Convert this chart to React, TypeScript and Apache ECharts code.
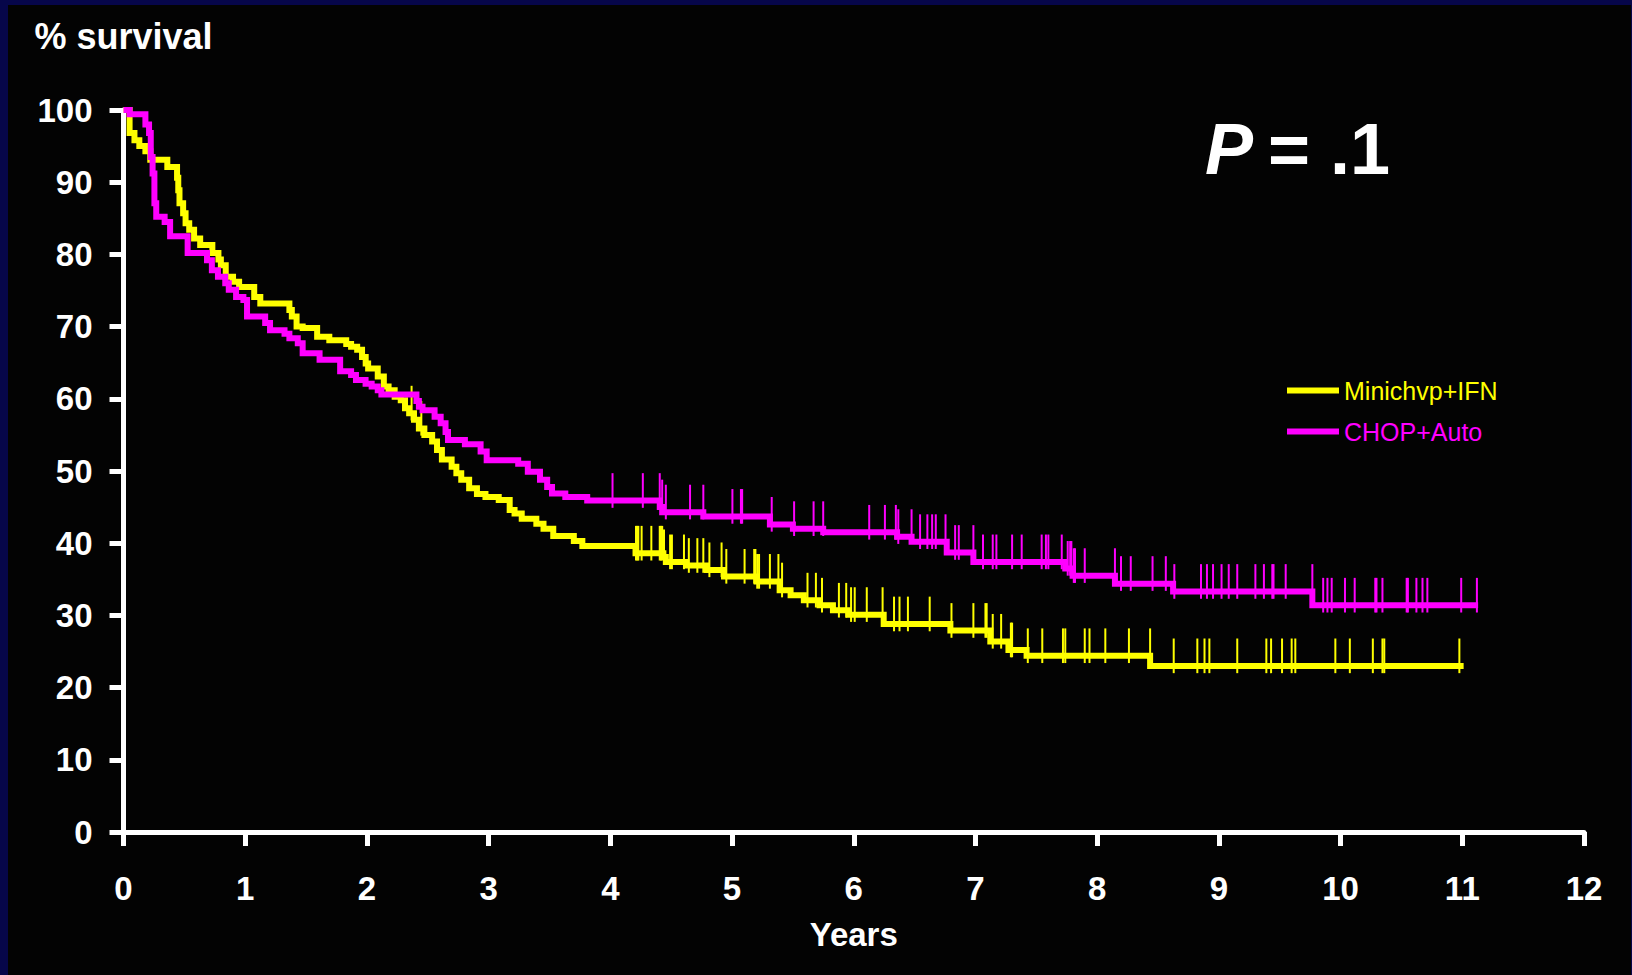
import React, { useEffect, useRef } from "react";
import * as echarts from "echarts";

const FONT = '"Liberation Sans", Arial, Helvetica, sans-serif';

const xTicks = [0, 12, 1];
const yTicks = [0, 100, 10];

const seriesNames = ["Minichvp+IFN", "CHOP+Auto"];
const seriesColors = ["#ffff00", "#ff00ff"];

// Kaplan–Meier step curves: survival value holds from time[i] until time[i+1]
const yellowTimes = [0, 0.05, 0.09, 0.13, 0.18, 0.22, 0.36, 0.44, 0.45, 0.46, 0.49, 0.51, 0.54, 0.58, 0.63, 0.73, 0.78, 0.8, 0.84, 0.9, 0.95, 1.074, 1.124, 1.363, 1.383, 1.422, 1.472, 1.591, 1.691, 1.83, 1.87, 1.92, 1.96, 1.99, 2.01, 2.089, 2.139, 2.178, 2.228, 2.278, 2.313, 2.347, 2.387, 2.427, 2.472, 2.536, 2.576, 2.616, 2.696, 2.735, 2.775, 2.84, 2.904, 2.974, 3.083, 3.173, 3.213, 3.272, 3.392, 3.451, 3.531, 3.7, 3.77, 4.207, 4.436, 4.456, 4.625, 4.794, 4.934, 5.202, 5.391, 5.481, 5.59, 5.719, 5.829, 5.958, 6.246, 6.794, 7.122, 7.271, 7.42, 8.435, 11.011];
const yellowSurv = [100, 96.8, 95.8, 95.0, 94.3, 93.1, 92.1, 90.6, 88.9, 87.1, 85.7, 84.3, 83.4, 82.2, 81.3, 80.2, 79.3, 78.5, 76.9, 76.2, 75.5, 74.1, 73.2, 72.3, 71.4, 70.0, 69.8, 68.6, 68.1, 67.6, 67.2, 66.8, 65.8, 64.9, 64.2, 63.1, 61.7, 61.2, 60.3, 59.8, 58.7, 58.0, 57.1, 55.9, 55.0, 54.1, 52.9, 51.6, 50.6, 49.7, 48.8, 47.6, 46.8, 46.4, 46.0, 44.6, 44.1, 43.4, 42.7, 42.0, 41.0, 40.3, 39.6, 38.6, 38.1, 37.4, 36.9, 36.3, 35.4, 34.7, 33.5, 32.8, 32.1, 31.4, 30.7, 30.1, 28.8, 27.9, 26.4, 25.2, 24.4, 23.0, 23.0];

const magentaTimes = [0, 0.05, 0.18, 0.21, 0.224, 0.239, 0.254, 0.269, 0.338, 0.383, 0.527, 0.686, 0.726, 0.776, 0.836, 0.865, 0.925, 0.985, 1.015, 1.164, 1.204, 1.323, 1.363, 1.432, 1.472, 1.611, 1.78, 1.87, 1.91, 1.989, 2.039, 2.089, 2.119, 2.407, 2.427, 2.457, 2.556, 2.606, 2.646, 2.666, 2.805, 2.934, 2.984, 3.243, 3.322, 3.422, 3.481, 3.521, 3.63, 3.81, 4.406, 4.426, 4.764, 5.311, 5.5, 5.749, 6.356, 6.475, 6.764, 6.983, 7.738, 7.798, 8.146, 8.624, 9.768, 11.13];
const magentaSurv = [100, 99.4, 98.0, 96.8, 93.5, 91.2, 87.1, 85.2, 84.5, 82.5, 80.2, 79.2, 77.8, 76.9, 76.0, 75.1, 74.1, 73.7, 71.4, 70.5, 69.5, 69.0, 68.4, 67.7, 66.3, 65.4, 63.8, 63.3, 62.6, 62.1, 61.7, 61.2, 60.6, 59.7, 58.9, 58.4, 57.5, 56.6, 55.4, 54.3, 53.7, 52.7, 51.5, 51.0, 49.9, 48.8, 47.8, 46.9, 46.4, 45.9, 45.0, 44.3, 43.7, 42.6, 42.0, 41.5, 40.9, 40.2, 38.7, 37.4, 36.5, 35.5, 34.4, 33.3, 31.4, 31.4];

// censored observations (years)
const yellowCensored = [2.367, 2.447, 4.211, 4.222, 4.23, 4.257, 4.337, 4.406, 4.416, 4.426, 4.441, 4.491, 4.506, 4.605, 4.645, 4.715, 4.764, 4.814, 4.914, 4.953, 5.103, 5.182, 5.192, 5.207, 5.222, 5.311, 5.381, 5.411, 5.62, 5.689, 5.739, 5.878, 5.938, 5.978, 6.008, 6.107, 6.237, 6.331, 6.376, 6.445, 6.624, 6.803, 6.983, 7.082, 7.092, 7.142, 7.211, 7.291, 7.301, 7.43, 7.549, 7.719, 7.738, 7.898, 7.937, 8.067, 8.261, 8.435, 8.629, 8.823, 8.882, 8.922, 9.151, 9.39, 9.429, 9.519, 9.598, 9.628, 9.957, 10.076, 10.265, 10.344, 10.359, 10.976];
const magentaCensored = [4.018, 4.267, 4.406, 4.426, 4.456, 4.655, 4.764, 5.003, 5.073, 5.083, 5.326, 5.51, 5.67, 5.749, 6.127, 6.256, 6.346, 6.366, 6.475, 6.545, 6.605, 6.644, 6.674, 6.754, 6.833, 6.863, 6.983, 7.062, 7.142, 7.172, 7.301, 7.38, 7.544, 7.579, 7.599, 7.709, 7.758, 7.778, 7.788, 7.808, 7.818, 7.898, 8.146, 8.196, 8.276, 8.455, 8.564, 8.634, 8.853, 8.902, 8.952, 9.022, 9.081, 9.151, 9.3, 9.37, 9.439, 9.449, 9.549, 9.768, 9.857, 9.892, 9.927, 10.036, 10.116, 10.285, 10.295, 10.344, 10.543, 10.553, 10.623, 10.673, 10.713, 10.991, 11.12];

const pLabel = "P";
const pValue = "= .1";

function survAt(times: number[], surv: number[], t: number): number {
  let v = surv[0];
  for (let i = 0; i < times.length; i++) {
    if (times[i] < t) v = surv[i];
    else break;
  }
  return v;
}

function censorSeries(times: number[], surv: number[], cens: number[], color: string) {
  return {
    type: "custom",
    silent: true,
    data: cens.map((t) => [t, survAt(times, surv, t)]),
    renderItem: (params: any, api: any) => {
      const t = api.value(0);
      const v = api.value(1);
      const p1 = api.coord([t, v - 1]);
      const p2 = api.coord([t, v + 3.8]);
      return {
        type: "line",
        shape: { x1: p1[0], y1: p1[1], x2: p2[0], y2: p2[1] },
        style: { stroke: color, lineWidth: 2 },
      };
    },
  };
}

export default function App() {
  const ref = useRef<HTMLDivElement>(null);
  useEffect(() => {
    if (!ref.current) return;
    const chart = echarts.init(ref.current, undefined, { renderer: "svg" });
    const navy = "#06064a";
    const axisColor = "#ffffff";
    const option: any = {
      animation: false,
      backgroundColor: "#030303",
      textStyle: { fontFamily: FONT },
      grid: { left: 123.5, right: 48, top: 110, bottom: 143, containLabel: false },
      legend: {
        orient: "vertical",
        left: 1287,
        top: 378,
        padding: 0,
        icon: "rect",
        itemWidth: 52,
        itemHeight: 6,
        itemGap: 16,
        selectedMode: false,
        data: seriesNames.map((n, i) => ({ name: n, textStyle: { color: seriesColors[i] } })),
        textStyle: { fontSize: 25, fontFamily: FONT },
      },
      xAxis: {
        type: "value",
        min: xTicks[0],
        max: xTicks[1],
        interval: xTicks[2],
        name: "Years",
        nameLocation: "middle",
        nameGap: 86,
        nameTextStyle: { color: axisColor, fontSize: 33, fontWeight: "bold", fontFamily: FONT },
        axisLine: { show: true, lineStyle: { color: axisColor, width: 5 } },
        axisTick: { show: true, inside: false, length: 14, lineStyle: { color: axisColor, width: 5 } },
        axisLabel: { color: axisColor, fontSize: 33, fontWeight: "bold", margin: 40, fontFamily: FONT },
        splitLine: { show: false },
      },
      yAxis: {
        type: "value",
        min: yTicks[0],
        max: yTicks[1],
        interval: yTicks[2],
        name: "% survival",
        nameLocation: "end",
        nameGap: 56,
        nameTextStyle: { color: axisColor, fontSize: 36, fontWeight: "bold", fontFamily: FONT, align: "center" },
        axisLine: { show: true, lineStyle: { color: axisColor, width: 5 } },
        axisTick: { show: true, inside: false, length: 14, lineStyle: { color: axisColor, width: 5 } },
        axisLabel: { color: axisColor, fontSize: 33, fontWeight: "bold", margin: 31, fontFamily: FONT },
        splitLine: { show: false },
      },
      series: [
        {
          name: seriesNames[0],
          type: "line",
          step: "end",
          color: seriesColors[0],
          showSymbol: false,
          silent: true,
          data: yellowTimes.map((t, i) => [t, yellowSurv[i]]),
          lineStyle: { width: 6, color: seriesColors[0], join: "miter", cap: "butt" },
          z: 2,
        },
        { ...censorSeries(yellowTimes, yellowSurv, yellowCensored, seriesColors[0]), z: 3 },
        {
          name: seriesNames[1],
          type: "line",
          step: "end",
          color: seriesColors[1],
          showSymbol: false,
          silent: true,
          data: magentaTimes.map((t, i) => [t, magentaSurv[i]]),
          lineStyle: { width: 6, color: seriesColors[1], join: "miter", cap: "butt" },
          z: 4,
        },
        { ...censorSeries(magentaTimes, magentaSurv, magentaCensored, seriesColors[1]), z: 5 },
      ],
      graphic: [
        { type: "rect", shape: { x: 0, y: 0, width: 1632, height: 5 }, style: { fill: navy }, silent: true },
        { type: "rect", shape: { x: 0, y: 0, width: 8, height: 975 }, style: { fill: navy }, silent: true },
        { type: "rect", shape: { x: 1631, y: 0, width: 1, height: 975 }, style: { fill: navy }, silent: true },
        {
          type: "text",
          x: 1205,
          y: 149,
          style: {
            text: pLabel,
            fill: "#ffffff",
            fontSize: 72,
            fontWeight: "bold",
            fontStyle: "italic",
            fontFamily: FONT,
            align: "left",
            verticalAlign: "middle",
          },
        },
        {
          type: "text",
          x: 1268,
          y: 149,
          style: {
            text: pValue,
            fill: "#ffffff",
            fontSize: 72,
            fontWeight: "bold",
            fontFamily: FONT,
            align: "left",
            verticalAlign: "middle",
          },
        },
      ],
    };
    chart.setOption(option);
    return () => chart.dispose();
  }, []);
  return (
    <div
      ref={ref}
      style={{ position: "fixed", left: 0, top: 0, width: 1632, height: 975 }}
    />
  );
}
